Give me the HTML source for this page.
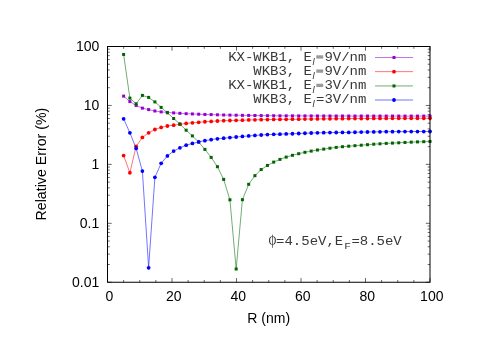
<!DOCTYPE html>
<html><head><meta charset="utf-8"><title>plot</title>
<style>html,body{margin:0;padding:0;background:#fff}svg{display:block;will-change:transform}text{font-family:"Liberation Sans",sans-serif;font-size:14px;fill:#000}.m{font-family:"Liberation Mono",monospace;font-size:14px;fill:#383838}</style></head>
<body>
<svg width="498" height="352" viewBox="0 0 498 352">
<rect x="0" y="0" width="498" height="352" fill="#ffffff"/>
<path d="M107.5 46.50h4.2M430.0 46.50h-4.2M107.5 87.70h2.3M430.0 87.70h-2.3M107.5 77.32h2.3M430.0 77.32h-2.3M107.5 69.95h2.3M430.0 69.95h-2.3M107.5 64.24h2.3M430.0 64.24h-2.3M107.5 59.58h2.3M430.0 59.58h-2.3M107.5 55.63h2.3M430.0 55.63h-2.3M107.5 52.21h2.3M430.0 52.21h-2.3M107.5 49.20h2.3M430.0 49.20h-2.3M107.5 105.44h4.2M430.0 105.44h-4.2M107.5 146.63h2.3M430.0 146.63h-2.3M107.5 136.25h2.3M430.0 136.25h-2.3M107.5 128.89h2.3M430.0 128.89h-2.3M107.5 123.18h2.3M430.0 123.18h-2.3M107.5 118.51h2.3M430.0 118.51h-2.3M107.5 114.57h2.3M430.0 114.57h-2.3M107.5 111.15h2.3M430.0 111.15h-2.3M107.5 108.13h2.3M430.0 108.13h-2.3M107.5 164.38h4.2M430.0 164.38h-4.2M107.5 205.57h2.3M430.0 205.57h-2.3M107.5 195.19h2.3M430.0 195.19h-2.3M107.5 187.83h2.3M430.0 187.83h-2.3M107.5 182.12h2.3M430.0 182.12h-2.3M107.5 177.45h2.3M430.0 177.45h-2.3M107.5 173.50h2.3M430.0 173.50h-2.3M107.5 170.09h2.3M430.0 170.09h-2.3M107.5 167.07h2.3M430.0 167.07h-2.3M107.5 223.31h4.2M430.0 223.31h-4.2M107.5 264.51h2.3M430.0 264.51h-2.3M107.5 254.13h2.3M430.0 254.13h-2.3M107.5 246.77h2.3M430.0 246.77h-2.3M107.5 241.05h2.3M430.0 241.05h-2.3M107.5 236.39h2.3M430.0 236.39h-2.3M107.5 232.44h2.3M430.0 232.44h-2.3M107.5 229.02h2.3M430.0 229.02h-2.3M107.5 226.01h2.3M430.0 226.01h-2.3M107.5 282.25h4.2M430.0 282.25h-4.2M107.50 282.25v-4.2M107.50 46.5v4.2M123.62 282.25v-2.3M123.62 46.5v2.3M139.75 282.25v-2.3M139.75 46.5v2.3M155.88 282.25v-2.3M155.88 46.5v2.3M172.00 282.25v-4.2M172.00 46.5v4.2M188.12 282.25v-2.3M188.12 46.5v2.3M204.25 282.25v-2.3M204.25 46.5v2.3M220.38 282.25v-2.3M220.38 46.5v2.3M236.50 282.25v-4.2M236.50 46.5v4.2M252.62 282.25v-2.3M252.62 46.5v2.3M268.75 282.25v-2.3M268.75 46.5v2.3M284.88 282.25v-2.3M284.88 46.5v2.3M301.00 282.25v-4.2M301.00 46.5v4.2M317.12 282.25v-2.3M317.12 46.5v2.3M333.25 282.25v-2.3M333.25 46.5v2.3M349.38 282.25v-2.3M349.38 46.5v2.3M365.50 282.25v-4.2M365.50 46.5v4.2M381.62 282.25v-2.3M381.62 46.5v2.3M397.75 282.25v-2.3M397.75 46.5v2.3M413.88 282.25v-2.3M413.88 46.5v2.3M430.00 282.25v-4.2M430.00 46.5v4.2" stroke="#000" stroke-width="0.6" fill="none"/>
<polyline points="123.62,96.10 129.88,101.60 136.13,105.50 142.38,108.15 148.64,109.60 154.89,111.00 161.14,111.90 167.39,112.40 173.65,112.90 179.90,113.30 186.15,113.70 192.40,113.95 198.66,114.20 204.91,114.45 211.16,114.60 217.41,114.80 223.67,115.00 229.92,115.10 236.17,115.20 242.42,115.35 248.68,115.40 254.93,115.50 261.18,115.60 267.43,115.70 273.69,115.72 279.94,115.80 286.19,115.82 292.44,115.84 298.70,115.87 304.95,115.89 311.20,115.91 317.45,115.93 323.71,115.96 329.96,115.98 336.21,116.00 342.46,116.01 348.72,116.01 354.97,116.02 361.22,116.03 367.47,116.03 373.73,116.04 379.98,116.05 386.23,116.05 392.48,116.06 398.74,116.07 404.99,116.07 411.24,116.08 417.49,116.09 423.75,116.09 430.00,116.10" fill="none" stroke="#9400d3" stroke-width="0.55"/>
<g fill="#9400d3"><rect x="122.12" y="94.60" width="3.0" height="3.0"/><rect x="128.38" y="100.10" width="3.0" height="3.0"/><rect x="134.63" y="104.00" width="3.0" height="3.0"/><rect x="140.88" y="106.65" width="3.0" height="3.0"/><rect x="147.14" y="108.10" width="3.0" height="3.0"/><rect x="153.39" y="109.50" width="3.0" height="3.0"/><rect x="159.64" y="110.40" width="3.0" height="3.0"/><rect x="165.89" y="110.90" width="3.0" height="3.0"/><rect x="172.15" y="111.40" width="3.0" height="3.0"/><rect x="178.40" y="111.80" width="3.0" height="3.0"/><rect x="184.65" y="112.20" width="3.0" height="3.0"/><rect x="190.90" y="112.45" width="3.0" height="3.0"/><rect x="197.16" y="112.70" width="3.0" height="3.0"/><rect x="203.41" y="112.95" width="3.0" height="3.0"/><rect x="209.66" y="113.10" width="3.0" height="3.0"/><rect x="215.91" y="113.30" width="3.0" height="3.0"/><rect x="222.17" y="113.50" width="3.0" height="3.0"/><rect x="228.42" y="113.60" width="3.0" height="3.0"/><rect x="234.67" y="113.70" width="3.0" height="3.0"/><rect x="240.92" y="113.85" width="3.0" height="3.0"/><rect x="247.18" y="113.90" width="3.0" height="3.0"/><rect x="253.43" y="114.00" width="3.0" height="3.0"/><rect x="259.68" y="114.10" width="3.0" height="3.0"/><rect x="265.93" y="114.20" width="3.0" height="3.0"/><rect x="272.19" y="114.22" width="3.0" height="3.0"/><rect x="278.44" y="114.30" width="3.0" height="3.0"/><rect x="284.69" y="114.32" width="3.0" height="3.0"/><rect x="290.94" y="114.34" width="3.0" height="3.0"/><rect x="297.20" y="114.37" width="3.0" height="3.0"/><rect x="303.45" y="114.39" width="3.0" height="3.0"/><rect x="309.70" y="114.41" width="3.0" height="3.0"/><rect x="315.95" y="114.43" width="3.0" height="3.0"/><rect x="322.21" y="114.46" width="3.0" height="3.0"/><rect x="328.46" y="114.48" width="3.0" height="3.0"/><rect x="334.71" y="114.50" width="3.0" height="3.0"/><rect x="340.96" y="114.51" width="3.0" height="3.0"/><rect x="347.22" y="114.51" width="3.0" height="3.0"/><rect x="353.47" y="114.52" width="3.0" height="3.0"/><rect x="359.72" y="114.53" width="3.0" height="3.0"/><rect x="365.97" y="114.53" width="3.0" height="3.0"/><rect x="372.23" y="114.54" width="3.0" height="3.0"/><rect x="378.48" y="114.55" width="3.0" height="3.0"/><rect x="384.73" y="114.55" width="3.0" height="3.0"/><rect x="390.98" y="114.56" width="3.0" height="3.0"/><rect x="397.24" y="114.57" width="3.0" height="3.0"/><rect x="403.49" y="114.57" width="3.0" height="3.0"/><rect x="409.74" y="114.58" width="3.0" height="3.0"/><rect x="415.99" y="114.59" width="3.0" height="3.0"/><rect x="422.25" y="114.59" width="3.0" height="3.0"/><rect x="428.50" y="114.60" width="3.0" height="3.0"/></g>
<polyline points="123.62,155.60 129.88,172.75 136.13,146.30 142.38,137.40 148.64,132.80 154.89,129.50 161.14,127.40 167.39,126.00 173.65,125.15 179.90,124.20 186.15,123.40 192.40,122.80 198.66,122.30 204.91,121.75 211.16,121.40 217.41,121.00 223.67,120.70 229.92,120.50 236.17,120.30 242.42,120.15 248.68,119.96 254.93,119.80 261.18,119.70 267.43,119.60 273.69,119.48 279.94,119.40 286.19,119.32 292.44,119.24 298.70,119.17 304.95,119.09 311.20,119.01 317.45,118.93 323.71,118.86 329.96,118.78 336.21,118.70 342.46,118.66 348.72,118.62 354.97,118.58 361.22,118.54 367.47,118.51 373.73,118.47 379.98,118.43 386.23,118.39 392.48,118.35 398.74,118.33 404.99,118.32 411.24,118.30 417.49,118.28 423.75,118.27 430.00,118.25" fill="none" stroke="#ff0000" stroke-width="0.55"/>
<g fill="#ff0000"><circle cx="123.62" cy="155.60" r="1.88"/><circle cx="129.88" cy="172.75" r="1.88"/><circle cx="136.13" cy="146.30" r="1.88"/><circle cx="142.38" cy="137.40" r="1.88"/><circle cx="148.64" cy="132.80" r="1.88"/><circle cx="154.89" cy="129.50" r="1.88"/><circle cx="161.14" cy="127.40" r="1.88"/><circle cx="167.39" cy="126.00" r="1.88"/><circle cx="173.65" cy="125.15" r="1.88"/><circle cx="179.90" cy="124.20" r="1.88"/><circle cx="186.15" cy="123.40" r="1.88"/><circle cx="192.40" cy="122.80" r="1.88"/><circle cx="198.66" cy="122.30" r="1.88"/><circle cx="204.91" cy="121.75" r="1.88"/><circle cx="211.16" cy="121.40" r="1.88"/><circle cx="217.41" cy="121.00" r="1.88"/><circle cx="223.67" cy="120.70" r="1.88"/><circle cx="229.92" cy="120.50" r="1.88"/><circle cx="236.17" cy="120.30" r="1.88"/><circle cx="242.42" cy="120.15" r="1.88"/><circle cx="248.68" cy="119.96" r="1.88"/><circle cx="254.93" cy="119.80" r="1.88"/><circle cx="261.18" cy="119.70" r="1.88"/><circle cx="267.43" cy="119.60" r="1.88"/><circle cx="273.69" cy="119.48" r="1.88"/><circle cx="279.94" cy="119.40" r="1.88"/><circle cx="286.19" cy="119.32" r="1.88"/><circle cx="292.44" cy="119.24" r="1.88"/><circle cx="298.70" cy="119.17" r="1.88"/><circle cx="304.95" cy="119.09" r="1.88"/><circle cx="311.20" cy="119.01" r="1.88"/><circle cx="317.45" cy="118.93" r="1.88"/><circle cx="323.71" cy="118.86" r="1.88"/><circle cx="329.96" cy="118.78" r="1.88"/><circle cx="336.21" cy="118.70" r="1.88"/><circle cx="342.46" cy="118.66" r="1.88"/><circle cx="348.72" cy="118.62" r="1.88"/><circle cx="354.97" cy="118.58" r="1.88"/><circle cx="361.22" cy="118.54" r="1.88"/><circle cx="367.47" cy="118.51" r="1.88"/><circle cx="373.73" cy="118.47" r="1.88"/><circle cx="379.98" cy="118.43" r="1.88"/><circle cx="386.23" cy="118.39" r="1.88"/><circle cx="392.48" cy="118.35" r="1.88"/><circle cx="398.74" cy="118.33" r="1.88"/><circle cx="404.99" cy="118.32" r="1.88"/><circle cx="411.24" cy="118.30" r="1.88"/><circle cx="417.49" cy="118.28" r="1.88"/><circle cx="423.75" cy="118.27" r="1.88"/><circle cx="430.00" cy="118.25" r="1.88"/></g>
<polyline points="123.62,54.45 129.88,98.10 136.13,103.80 142.38,95.40 148.64,97.40 154.89,101.90 161.14,107.40 167.39,112.80 173.65,118.50 179.90,124.05 186.15,130.20 192.40,135.90 198.66,142.00 204.91,149.40 211.16,157.40 217.41,166.70 223.67,179.40 229.92,199.80 236.17,269.00 242.42,199.70 248.68,184.30 254.93,175.65 261.18,169.55 267.43,165.45 273.69,162.10 279.94,159.40 286.19,157.10 292.44,155.30 298.70,153.70 304.95,152.30 311.20,151.10 317.45,150.00 323.71,149.10 329.96,148.20 336.21,147.40 342.46,146.70 348.72,146.20 354.97,145.70 361.22,145.20 367.47,144.70 373.73,144.20 379.98,143.80 386.23,143.40 392.48,143.10 398.74,142.80 404.99,142.45 411.24,142.15 417.49,141.90 423.75,141.70 430.00,141.50" fill="none" stroke="#006400" stroke-width="0.55"/>
<g fill="#006400"><rect x="122.12" y="52.95" width="3.0" height="3.0"/><rect x="128.38" y="96.60" width="3.0" height="3.0"/><rect x="134.63" y="102.30" width="3.0" height="3.0"/><rect x="140.88" y="93.90" width="3.0" height="3.0"/><rect x="147.14" y="95.90" width="3.0" height="3.0"/><rect x="153.39" y="100.40" width="3.0" height="3.0"/><rect x="159.64" y="105.90" width="3.0" height="3.0"/><rect x="165.89" y="111.30" width="3.0" height="3.0"/><rect x="172.15" y="117.00" width="3.0" height="3.0"/><rect x="178.40" y="122.55" width="3.0" height="3.0"/><rect x="184.65" y="128.70" width="3.0" height="3.0"/><rect x="190.90" y="134.40" width="3.0" height="3.0"/><rect x="197.16" y="140.50" width="3.0" height="3.0"/><rect x="203.41" y="147.90" width="3.0" height="3.0"/><rect x="209.66" y="155.90" width="3.0" height="3.0"/><rect x="215.91" y="165.20" width="3.0" height="3.0"/><rect x="222.17" y="177.90" width="3.0" height="3.0"/><rect x="228.42" y="198.30" width="3.0" height="3.0"/><rect x="234.67" y="267.50" width="3.0" height="3.0"/><rect x="240.92" y="198.20" width="3.0" height="3.0"/><rect x="247.18" y="182.80" width="3.0" height="3.0"/><rect x="253.43" y="174.15" width="3.0" height="3.0"/><rect x="259.68" y="168.05" width="3.0" height="3.0"/><rect x="265.93" y="163.95" width="3.0" height="3.0"/><rect x="272.19" y="160.60" width="3.0" height="3.0"/><rect x="278.44" y="157.90" width="3.0" height="3.0"/><rect x="284.69" y="155.60" width="3.0" height="3.0"/><rect x="290.94" y="153.80" width="3.0" height="3.0"/><rect x="297.20" y="152.20" width="3.0" height="3.0"/><rect x="303.45" y="150.80" width="3.0" height="3.0"/><rect x="309.70" y="149.60" width="3.0" height="3.0"/><rect x="315.95" y="148.50" width="3.0" height="3.0"/><rect x="322.21" y="147.60" width="3.0" height="3.0"/><rect x="328.46" y="146.70" width="3.0" height="3.0"/><rect x="334.71" y="145.90" width="3.0" height="3.0"/><rect x="340.96" y="145.20" width="3.0" height="3.0"/><rect x="347.22" y="144.70" width="3.0" height="3.0"/><rect x="353.47" y="144.20" width="3.0" height="3.0"/><rect x="359.72" y="143.70" width="3.0" height="3.0"/><rect x="365.97" y="143.20" width="3.0" height="3.0"/><rect x="372.23" y="142.70" width="3.0" height="3.0"/><rect x="378.48" y="142.30" width="3.0" height="3.0"/><rect x="384.73" y="141.90" width="3.0" height="3.0"/><rect x="390.98" y="141.60" width="3.0" height="3.0"/><rect x="397.24" y="141.30" width="3.0" height="3.0"/><rect x="403.49" y="140.95" width="3.0" height="3.0"/><rect x="409.74" y="140.65" width="3.0" height="3.0"/><rect x="415.99" y="140.40" width="3.0" height="3.0"/><rect x="422.25" y="140.20" width="3.0" height="3.0"/><rect x="428.50" y="140.00" width="3.0" height="3.0"/></g>
<polyline points="123.62,118.85 129.88,132.80 136.13,148.40 142.38,171.10 148.64,267.80 154.89,177.35 161.14,163.30 167.39,155.90 173.65,151.10 179.90,147.80 186.15,145.20 192.40,143.45 198.66,141.90 204.91,140.65 211.16,139.65 217.41,138.80 223.67,138.15 229.92,137.55 236.17,137.00 242.42,136.45 248.68,135.95 254.93,135.45 261.18,135.00 267.43,134.60 273.69,134.30 279.94,134.15 286.19,133.95 292.44,133.75 298.70,133.50 304.95,133.25 311.20,133.00 317.45,132.85 323.71,132.70 329.96,132.60 336.21,132.50 342.46,132.45 348.72,132.40 354.97,132.25 361.22,132.10 367.47,132.00 373.73,131.90 379.98,131.82 386.23,131.73 392.48,131.65 398.74,131.62 404.99,131.60 411.24,131.57 417.49,131.55 423.75,131.53 430.00,131.50" fill="none" stroke="#0000ff" stroke-width="0.55"/>
<g fill="#0000ff"><circle cx="123.62" cy="118.85" r="1.88"/><circle cx="129.88" cy="132.80" r="1.88"/><circle cx="136.13" cy="148.40" r="1.88"/><circle cx="142.38" cy="171.10" r="1.88"/><circle cx="148.64" cy="267.80" r="1.88"/><circle cx="154.89" cy="177.35" r="1.88"/><circle cx="161.14" cy="163.30" r="1.88"/><circle cx="167.39" cy="155.90" r="1.88"/><circle cx="173.65" cy="151.10" r="1.88"/><circle cx="179.90" cy="147.80" r="1.88"/><circle cx="186.15" cy="145.20" r="1.88"/><circle cx="192.40" cy="143.45" r="1.88"/><circle cx="198.66" cy="141.90" r="1.88"/><circle cx="204.91" cy="140.65" r="1.88"/><circle cx="211.16" cy="139.65" r="1.88"/><circle cx="217.41" cy="138.80" r="1.88"/><circle cx="223.67" cy="138.15" r="1.88"/><circle cx="229.92" cy="137.55" r="1.88"/><circle cx="236.17" cy="137.00" r="1.88"/><circle cx="242.42" cy="136.45" r="1.88"/><circle cx="248.68" cy="135.95" r="1.88"/><circle cx="254.93" cy="135.45" r="1.88"/><circle cx="261.18" cy="135.00" r="1.88"/><circle cx="267.43" cy="134.60" r="1.88"/><circle cx="273.69" cy="134.30" r="1.88"/><circle cx="279.94" cy="134.15" r="1.88"/><circle cx="286.19" cy="133.95" r="1.88"/><circle cx="292.44" cy="133.75" r="1.88"/><circle cx="298.70" cy="133.50" r="1.88"/><circle cx="304.95" cy="133.25" r="1.88"/><circle cx="311.20" cy="133.00" r="1.88"/><circle cx="317.45" cy="132.85" r="1.88"/><circle cx="323.71" cy="132.70" r="1.88"/><circle cx="329.96" cy="132.60" r="1.88"/><circle cx="336.21" cy="132.50" r="1.88"/><circle cx="342.46" cy="132.45" r="1.88"/><circle cx="348.72" cy="132.40" r="1.88"/><circle cx="354.97" cy="132.25" r="1.88"/><circle cx="361.22" cy="132.10" r="1.88"/><circle cx="367.47" cy="132.00" r="1.88"/><circle cx="373.73" cy="131.90" r="1.88"/><circle cx="379.98" cy="131.82" r="1.88"/><circle cx="386.23" cy="131.73" r="1.88"/><circle cx="392.48" cy="131.65" r="1.88"/><circle cx="398.74" cy="131.62" r="1.88"/><circle cx="404.99" cy="131.60" r="1.88"/><circle cx="411.24" cy="131.57" r="1.88"/><circle cx="417.49" cy="131.55" r="1.88"/><circle cx="423.75" cy="131.53" r="1.88"/><circle cx="430.00" cy="131.50" r="1.88"/></g>
<text class="m" transform="translate(312,60.7) scale(1.1667,1)" text-anchor="end" style="font-size:12.0px">KX-WKB1, E</text><text x="312.6" y="64.9" style="font-style:italic;font-size:9.6px;fill:#333">l</text><text class="m" transform="translate(324.4,60.7) scale(1.1667,1)" text-anchor="start" style="font-size:12.0px">9V/nm</text>
<rect x="316.3" y="55.30" width="6.9" height="3.3" fill="#999"/><path d="M375 57.5H413" stroke="#9400d3" stroke-width="0.55"/><rect x="392.5" y="56.0" width="3" height="3" fill="#9400d3"/>
<text class="m" transform="translate(312,74.6) scale(1.1667,1)" text-anchor="end" style="font-size:12.0px">WKB3, E</text><text x="312.6" y="78.8" style="font-style:italic;font-size:9.6px;fill:#333">l</text><text class="m" transform="translate(324.4,74.6) scale(1.1667,1)" text-anchor="start" style="font-size:12.0px">9V/nm</text>
<rect x="316.3" y="69.45" width="6.9" height="3.3" fill="#999"/><path d="M375 71.65H413" stroke="#ff0000" stroke-width="0.55"/><circle cx="394" cy="71.65" r="1.88" fill="#ff0000"/>
<text class="m" transform="translate(312,88.6) scale(1.1667,1)" text-anchor="end" style="font-size:12.0px">KX-WKB1, E</text><text x="312.6" y="92.8" style="font-style:italic;font-size:9.6px;fill:#333">l</text><text class="m" transform="translate(324.4,88.6) scale(1.1667,1)" text-anchor="start" style="font-size:12.0px">3V/nm</text>
<rect x="316.3" y="83.75" width="6.9" height="3.3" fill="#999"/><path d="M375 85.95H413" stroke="#006400" stroke-width="0.55"/><rect x="392.5" y="84.45" width="3" height="3" fill="#006400"/>
<text class="m" transform="translate(312,102.5) scale(1.1667,1)" text-anchor="end" style="font-size:12.0px">WKB3, E</text><text x="312.6" y="106.7" style="font-style:italic;font-size:9.6px;fill:#333">l</text><text class="m" transform="translate(316,102.5) scale(1.1667,1)" text-anchor="start" style="font-size:12.0px">=3V/nm</text>
<path d="M375 100.0H413" stroke="#0000ff" stroke-width="0.55"/><circle cx="394" cy="100.0" r="1.88" fill="#0000ff"/>
<path d="M269.0 240.5A3.45 4.2 0 1 1 275.9 240.5A3.45 4.2 0 1 1 269.0 240.5ZM270.09999999999997 240.5A2.35 3.65 0 1 0 274.8 240.5A2.35 3.65 0 1 0 270.09999999999997 240.5Z" fill="#333" fill-rule="evenodd"/><path d="M272.5 234.7V247.8" stroke="#333" stroke-width="0.7" fill="none"/>
<text class="m" transform="translate(276.1,244.7) scale(1.1667,1)" text-anchor="start" style="font-size:12.0px">=4.5eV,E</text><text class="m" transform="translate(344.3,248.8) scale(1.1667,1)" text-anchor="start" style="font-size:9.6px">F</text><text class="m" transform="translate(351.4,244.7) scale(1.1667,1)" text-anchor="start" style="font-size:12.0px">=8.5eV</text>
<rect x="107.5" y="46.5" width="322.5" height="235.75" fill="none" stroke="#000" stroke-width="1"/>
<text x="99.3" y="51.15" text-anchor="end">100</text><text x="99.3" y="110.09" text-anchor="end">10</text><text x="99.3" y="169.03" text-anchor="end">1</text><text x="99.3" y="227.96" text-anchor="end">0.1</text><text x="99.3" y="286.90" text-anchor="end">0.01</text>
<text x="109.30" y="301.1" text-anchor="middle">0</text><text x="173.80" y="301.1" text-anchor="middle">20</text><text x="238.30" y="301.1" text-anchor="middle">40</text><text x="302.80" y="301.1" text-anchor="middle">60</text><text x="367.30" y="301.1" text-anchor="middle">80</text><text x="431.80" y="301.1" text-anchor="middle">100</text>
<text x="268.7" y="323.0" text-anchor="middle">R (nm)</text>
<text transform="translate(45.8,164.1) rotate(-90)" text-anchor="middle" style="font-size:14.2px">Relative Error (%)</text>
</svg>
</body></html>
